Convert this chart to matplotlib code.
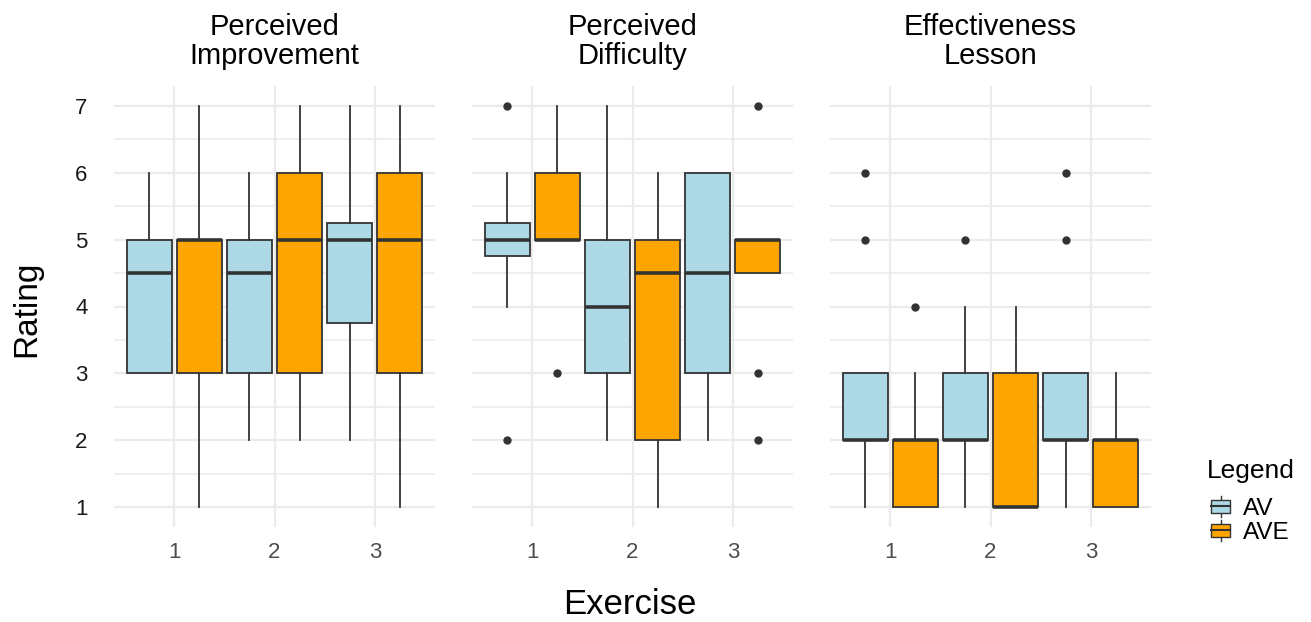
import matplotlib
matplotlib.use("Agg")
import matplotlib.pyplot as plt
from matplotlib.legend_handler import HandlerBase
from matplotlib.patches import Rectangle
from matplotlib.lines import Line2D
from matplotlib.ticker import MultipleLocator

plt.rcParams['font.family'] = ['Liberation Sans', 'DejaVu Sans']

# ---------------- data ----------------
facets = ["Perceived\nImprovement", "Perceived\nDifficulty", "Effectiveness\nLesson"]
exercises = [1, 2, 3]
groups = ["AV", "AVE"]
colors = ["#ADD8E6", "#FFA500"]

# each box: (whisker low, Q1, median, Q3, whisker high), one per exercise
improvement_av = [(3, 3, 4.5, 5, 6), (2, 3, 4.5, 5, 6), (2, 3.75, 5, 5.25, 7)]
improvement_ave = [(1, 3, 5, 5, 7), (2, 3, 5, 6, 7), (1, 3, 5, 6, 7)]
improvement_av_out = [[], [], []]
improvement_ave_out = [[], [], []]

difficulty_av = [(4, 4.75, 5, 5.25, 6), (2, 3, 4, 5, 7), (2, 3, 4.5, 6, 6)]
difficulty_ave = [(5, 5, 5, 6, 7), (1, 2, 4.5, 5, 6), (4.5, 4.5, 5, 5, 5)]
difficulty_av_out = [[7, 2], [], []]
difficulty_ave_out = [[3], [], [7, 3, 2]]

effectiveness_av = [(1, 2, 2, 3, 3), (1, 2, 2, 3, 4), (1, 2, 2, 3, 3)]
effectiveness_ave = [(1, 1, 2, 2, 3), (1, 1, 1, 3, 4), (1, 1, 2, 2, 3)]
effectiveness_av_out = [[6, 5], [5], [6, 5]]
effectiveness_ave_out = [[4], [], []]

y_ticks = [1, 2, 3, 4, 5, 6, 7]

panel_data = [
    ((improvement_av, improvement_av_out), (improvement_ave, improvement_ave_out)),
    ((difficulty_av, difficulty_av_out), (difficulty_ave, difficulty_ave_out)),
    ((effectiveness_av, effectiveness_av_out), (effectiveness_ave, effectiveness_ave_out)),
]

# ---------------- figure ----------------
W, H = 1311, 622
fig = plt.figure(figsize=(W / 100, H / 100), dpi=100)

edge = "#333333"
grid_c = "#EBEBEB"
panel_left_px = [114, 472, 830]
panel_w_px = 321
panel_top_px, panel_bot_px = 86, 527

axes = []
for i, (title, pdata) in enumerate(zip(facets, panel_data)):
    ax = fig.add_axes([panel_left_px[i] / W, 1 - panel_bot_px / H,
                       panel_w_px / W, (panel_bot_px - panel_top_px) / H])
    axes.append(ax)
    ax.set_xlim(0.4, 3.6)
    ax.set_ylim(0.7, 7.3)
    for s in ax.spines.values():
        s.set_visible(False)
    ax.set_yticks(y_ticks)
    ax.yaxis.set_minor_locator(MultipleLocator(0.5))
    ax.set_xticks(exercises)
    ax.set_xticklabels([str(e) for e in exercises])
    ax.set_axisbelow(True)
    ax.grid(which="major", color=grid_c, lw=1.6)
    ax.grid(which="minor", axis="y", color=grid_c, lw=1.1)
    ax.tick_params(which="both", length=0)
    ax.tick_params(axis="x", labelsize=16, labelcolor="#4D4D4D", pad=11)
    ax.tick_params(axis="y", labelsize=16, labelcolor="#1A1A1A", pad=19)
    if i > 0:
        ax.tick_params(axis="y", labelleft=False)
    ax.set_title(title, fontsize=21, pad=16, linespacing=1.05)

    for g, ((stats, outs), col) in enumerate(zip(pdata, colors)):
        offset = -0.25 if g == 0 else 0.25
        bstats = []
        for (lo, q1, med, q3, hi), fl in zip(stats, outs):
            bstats.append(dict(whislo=lo, q1=q1, med=med, q3=q3, whishi=hi, fliers=fl))
        ax.bxp(bstats, positions=[e + offset for e in exercises], widths=0.45,
               patch_artist=True, showcaps=False,
               boxprops=dict(facecolor=col, edgecolor=edge, lw=1.3),
               medianprops=dict(color=edge, lw=2.6, solid_capstyle="butt"),
               whiskerprops=dict(color=edge, lw=1.3),
               flierprops=dict(marker="o", markersize=5, markerfacecolor=edge,
                               markeredgecolor=edge, linestyle="none"),
               manage_ticks=False)

fig.text(27 / W, 1 - 309 / H, "Rating", rotation=90, fontsize=24,
         ha="center", va="center")
fig.text(630 / W, 1 - 605 / H, "Exercise", fontsize=25, ha="center", va="center")
fig.text(1207 / W, 1 - 471 / H, "Legend", fontsize=19, ha="left", va="center")


class BoxHandler(HandlerBase):
    def create_artists(self, legend, orig_handle, xdescent, ydescent, width,
                       height, fontsize, trans):
        col = orig_handle.get_facecolor()
        bw = width
        x0 = -xdescent
        bh = height * 0.62
        y0 = -ydescent + (height - bh) / 2
        r = Rectangle((x0, y0), bw, bh, facecolor=col, edgecolor=edge, lw=1.0,
                      transform=trans)
        cx = x0 + bw / 2
        m = Line2D([x0, x0 + bw], [y0 + bh / 2] * 2, color=edge, lw=1.5, transform=trans)
        w1 = Line2D([cx, cx], [-ydescent, y0], color=edge, lw=1.0, transform=trans)
        w2 = Line2D([cx, cx], [y0 + bh, -ydescent + height], color=edge, lw=1.0,
                    transform=trans)
        return [w1, w2, r, m]


handles = [Rectangle((0, 0), 1, 1, facecolor=c) for c in colors]
leg = fig.legend(handles, groups, loc="upper left",
                 bbox_to_anchor=(1211 / W, 1 - 496 / H), frameon=False,
                 fontsize=17.5, handler_map={Rectangle: BoxHandler()},
                 handlelength=0.8, handleheight=0.95, handletextpad=0.5,
                 labelspacing=0.0, borderpad=0.0, borderaxespad=0.0)

fig.savefig("out.png", dpi=100, facecolor="white")
